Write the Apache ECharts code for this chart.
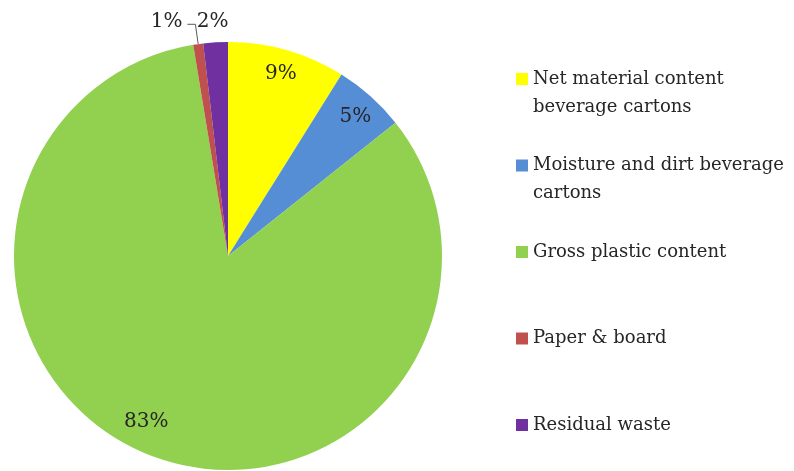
<!DOCTYPE html>
<html>
<head>
<meta charset="utf-8">
<script src="https://cdn.jsdelivr.net/npm/echarts@6/dist/echarts.min.js"></script>
<style>
html,body{margin:0;padding:0;background:#fff;}
#chart{width:794px;height:471px;}
</style>
</head>
<body>
<div id="chart"></div>
<script>
// ---- data ----
const categories = [
  'Net material content beverage cartons',
  'Moisture and dirt beverage cartons',
  'Gross plastic content',
  'Paper & board',
  'Residual waste'
];
const legendLabels = [
  'Net material content\nbeverage cartons',
  'Moisture and dirt beverage\ncartons',
  'Gross plastic content',
  'Paper & board',
  'Residual waste'
];
const shares = [8.9, 5.4, 83.1, 0.75, 1.85];
const colors = ['#FFFF00', '#558ED5', '#92D050', '#C0504D', '#7030A0'];
const labelOutside = [false, false, false, true, true];
const showLeader = [false, false, false, true, false];

// ---- layout ----
const FONT = 'DejaVu Serif';
const TXT = '#262626';
const CX = 228, CY = 256, R = 214;
const LH = 28;

const chart = echarts.init(document.getElementById('chart'), null, {renderer: 'canvas'});

const mainData = categories.map((n, i) => ({
  name: n, value: shares[i], itemStyle: {color: colors[i]}
}));
const labelData = categories.map((n, i) => ({
  name: n, value: shares[i],
  label: {position: labelOutside[i] ? 'outside' : 'inside'},
  labelLine: {show: showLeader[i]}
}));

const legendData = categories.map((n, i) => ({
  name: n, icon: 'rect', itemStyle: {color: colors[i]}
}));

// every legend entry is a 3-line block whose 2nd line sits level with the icon
function legendText(name) {
  const lines = legendLabels[categories.indexOf(name)].split('\n');
  const l2 = lines.length > 1 ? lines[1] : ' ';
  return ' \n' + lines[0] + '\n' + l2;
}

chart.setOption({
  backgroundColor: '#ffffff',
  animation: false,
  legend: {
    orient: 'vertical',
    left: 516, top: 37,
    padding: 0,
    itemWidth: 12, itemHeight: 12, itemGap: 2.5,
    selectedMode: false,
    data: legendData,
    formatter: legendText,
    textStyle: {fontFamily: FONT, fontSize: 18, lineHeight: LH, color: TXT}
  },
  series: [
    {
      type: 'pie', center: [CX, CY], radius: [0, R],
      startAngle: 90, clockwise: true,
      label: {show: false}, labelLine: {show: false},
      emphasis: {disabled: true},
      itemStyle: {borderWidth: 0},
      data: mainData
    },
    {
      type: 'pie', center: [CX, CY], radius: [R * 0.76, R],
      startAngle: 90, clockwise: true, silent: true,
      avoidLabelOverlap: false,
      percentPrecision: 0,
      itemStyle: {color: 'rgba(0,0,0,0)', borderWidth: 0},
      emphasis: {disabled: true},
      label: {
        show: true, formatter: '{d}%',
        fontFamily: FONT, fontSize: 20, color: TXT
      },
      labelLine: {length: 20, length2: 8, lineStyle: {color: '#595959', width: 1}},
      labelLayout: params => {
        if (params.dataIndex === 4) return {dx: 27, dy: -1};
        if (params.dataIndex === 3) return {dy: -2};
        if (params.dataIndex === 2) return {dx: -13, dy: -13};
        if (params.dataIndex === 1) return {dy: 4};
        return {dy: 2};
      },
      data: labelData
    }
  ]
});
</script>
</body>
</html>
